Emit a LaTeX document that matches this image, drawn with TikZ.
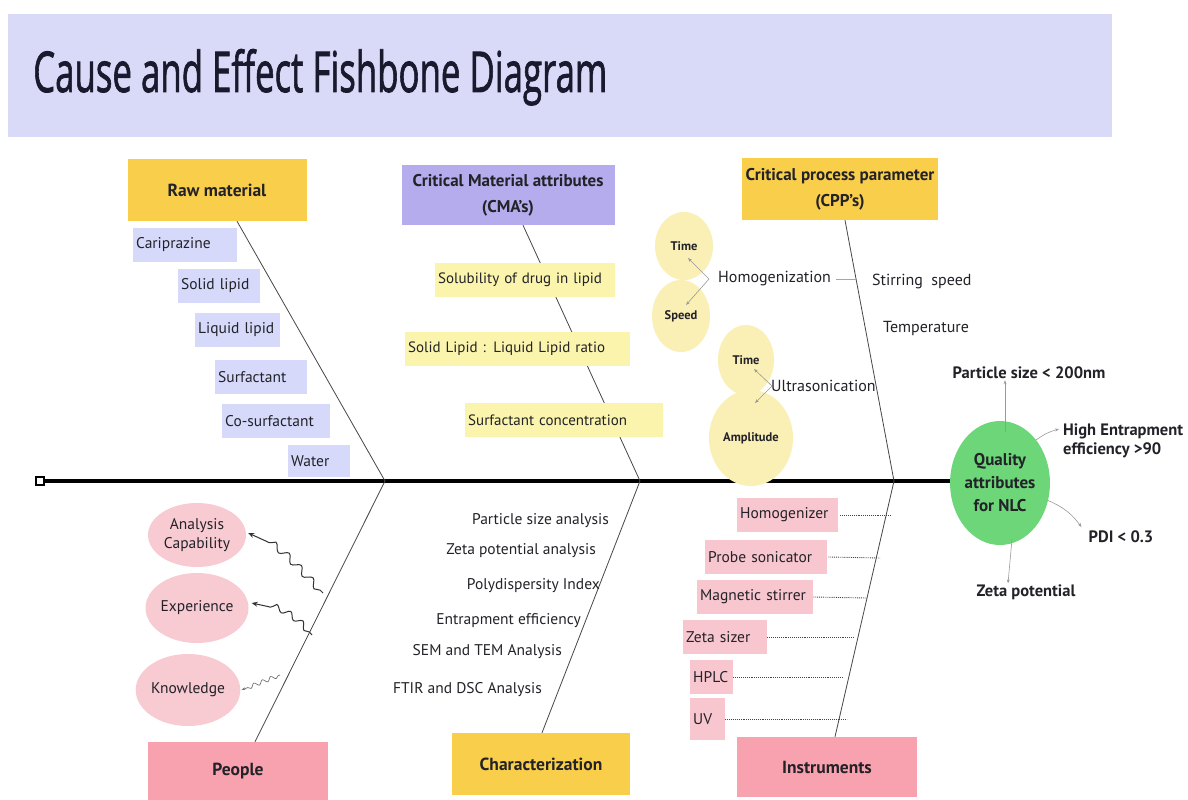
\documentclass[tikz,border=0pt]{standalone}
\usepackage{fontspec}
\setmainfont{PT Sans}
\newfontfamily\titlefont[FakeBold=1.6]{Open Sans}
\usetikzlibrary{shapes.geometric,decorations.pathmorphing,arrows.meta}
\definecolor{titlebg}{RGB}{217,218,248}
\definecolor{gold}{RGB}{249,206,74}
\definecolor{cmapurple}{RGB}{180,172,236}
\definecolor{lavbox}{RGB}{214,217,250}
\definecolor{paleyel}{RGB}{250,244,172}
\definecolor{ycircle}{RGB}{250,240,182}
\definecolor{pinkdk}{RGB}{247,162,174}
\definecolor{pinklt}{RGB}{248,202,210}
\definecolor{pinkbox}{RGB}{248,198,206}
\definecolor{qgreen}{RGB}{108,214,120}
\definecolor{ink}{RGB}{34,34,40}
\definecolor{titleink}{RGB}{26,26,46}
\definecolor{boneclr}{RGB}{70,70,70}
\tikzset{
  fs/.style={font=\fontsize{#1}{19}\selectfont},
  bfs/.style={font=\bfseries\fontsize{#1}{19}\selectfont},
  headbox/.style={fill=#1, inner sep=2pt, align=center, text=ink},
  itembox/.style={fill=#1, inner xsep=3pt, inner ysep=0pt, minimum height=34pt, anchor=west, align=left, text=ink, fs=15.5},
  plain/.style={inner sep=1pt, text=ink, fs=15.5},
  bone/.style={draw=boneclr, line width=0.8pt},
  garrow/.style={draw=gray!80, line width=0.6pt, -{Stealth[length=4pt,width=3pt]}},
  ycirc/.style={ellipse, fill=ycircle, inner sep=0pt, text=ink, bfs=12.5},
  pell/.style={ellipse, fill=pinklt, inner sep=0pt, align=center, text=ink, fs=15.5},
  wavy/.style={draw=#1, line width=1pt, -{Stealth[length=6pt,width=5pt]}, decorate,
     decoration={snake, amplitude=3.5pt, segment length=17pt, pre length=4pt, post length=20pt}},
  dotline/.style={draw=boneclr, line width=0.9pt, densely dotted},
}
\begin{document}
\begin{tikzpicture}[x=1pt,y=-1pt]
\useasboundingbox[fill=white] (0,0) rectangle (1188,800);

% title band
\node[fill=titlebg, minimum width=1104pt, minimum height=123pt, anchor=north west, inner sep=0pt] (band) at (8,14) {};
\node[anchor=base west, inner sep=0pt, text=titleink] (title) at (33,92) {\resizebox{574pt}{43pt}{\titlefont Cause and Effect Fishbone Diagram}};

% quality ellipse and spine
\node[ellipse, fill=qgreen, minimum width=98pt, minimum height=124pt, inner sep=0pt, align=center, text=ink, font=\bfseries\fontsize{17}{23}\selectfont] (qa) at (1000,483) {Quality\\attributes\\for NLC};
\node[draw=black, line width=2.2pt, minimum size=8pt, inner sep=0pt, fill=white] (tail) at (40,481) {};
\draw[line width=3.5pt] (tail.east) -- (qa.west |- tail.east);

% junctions on spine
\coordinate (j1) at (385,481);
\coordinate (j2) at (640,481);
\coordinate (j3) at (894,481);

% head boxes
\node[headbox=gold, minimum width=179pt, minimum height=62pt, bfs=17.5] (raw) at (217,190) {Raw material};
\node[headbox=cmapurple, minimum width=213pt, minimum height=60pt, font=\bfseries\fontsize{17}{26}\selectfont] (cma) at (508,195) {Critical Material attributes\\(CMA's)};
\node[headbox=gold, minimum width=196pt, minimum height=62pt, font=\bfseries\fontsize{17}{26}\selectfont] (cpp) at (840,189) {Critical process parameter\\(CPP's)};
\node[headbox=pinkdk, minimum width=180pt, minimum height=58pt, bfs=17.5] (people) at (238,771) {People};
\node[headbox=gold, minimum width=178pt, minimum height=62pt, bfs=17.5] (char) at (541,764) {Characterization};
\node[headbox=pinkdk, minimum width=180pt, minimum height=60pt, bfs=17.5] (instr) at (827,767) {Instruments};

% bones
\draw[bone] ([xshift=20pt]raw.south) -- (j1);
\draw[bone] (j1) -- ([xshift=17pt]people.north);
\draw[bone] ([xshift=15pt]cma.south) -- (j2);
\draw[bone] (j2) -- ([xshift=1pt]char.north);
\draw[bone] ([xshift=5pt]cpp.south) -- (j3);
\draw[bone] (j3) -- ([xshift=8pt]instr.north);

% raw material items
\node[itembox=lavbox, text width=98pt] (c1) at (133,245) {Cariprazine};
\node[itembox=lavbox, text width=76pt] (c2) at (178,286) {Solid lipid};
\node[itembox=lavbox, text width=79pt] (c3) at (195,330) {Liquid lipid};
\node[itembox=lavbox, text width=86pt] (c4) at (215,377) {Surfactant};
\node[itembox=lavbox, text width=102pt] (c5) at (222,421) {Co-surfactant};
\node[itembox=lavbox, text width=56pt, minimum height=32pt] (c6) at (288,461) {Water};

% CMA items
\node[itembox=paleyel, text width=174pt, fs=15] (s1) at (435,280) {Solubility of drug in lipid};
\node[itembox=paleyel, text width=219pt, fs=15] (s2) at (405,349) {Solid Lipid : Liquid Lipid ratio};
\node[itembox=paleyel, text width=192pt, fs=15] (s3) at (465,420) {Surfactant concentration};

% CPP items
\node[ycirc, minimum width=58pt, minimum height=68pt] (t1) at (684,246) {Time};
\node[ycirc, minimum width=58pt, minimum height=72pt] (sp) at (681,316) {Speed};
\node[ycirc, minimum width=56pt, minimum height=70pt] (t2) at (746,360) {Time};
\node[ycirc, minimum width=84pt, minimum height=96pt] (am) at (751,438) {Amplitude};

\node[plain, anchor=west, inner sep=3pt, fs=16] (hom) at (715,279) {Homogenization};
\draw[garrow] ([xshift=-6pt]hom.west) -- ([xshift=4pt,yshift=-12pt]t1.center);
\draw[garrow] ([xshift=-6pt]hom.west) -- ([xshift=5pt,yshift=11pt]sp.center);
\coordinate (hb) at (856,279);
\draw[draw=gray!70, line width=0.6pt] ([xshift=2pt]hom.east) -- (hb);
\node[plain, anchor=west, fs=16] (stir) at (871,281) {Stirring\ \ speed};
\node[plain, anchor=west, fs=16] (temp) at (882,328) {Temperature};
\node[plain, anchor=west, fs=16] (ultra) at (770,386) {Ultrasonication};
\draw[garrow] ([xshift=2pt]ultra.west) -- ([xshift=8pt,yshift=-9pt]t2.center);
\draw[garrow] ([xshift=2pt]ultra.west) -- ([xshift=4pt,yshift=35pt]am.center);

% people items
\node[pell, minimum width=98pt, minimum height=64pt] (ac) at (197,535) {Analysis\\Capability};
\node[pell, minimum width=98pt, minimum height=70pt] (ex) at (197,608) {Experience};
\node[pell, minimum width=98pt, minimum height=72pt] (kn) at (188,690) {Knowledge};
\coordinate (wa) at (323,593);
\coordinate (wb) at (312,635);
\coordinate (wc) at (280,675);
\draw[wavy=black!80] (wa) to[out=135, in=-20] ([xshift=2pt,yshift=2pt]ac.east);
\draw[wavy=black!80, decoration={snake, amplitude=3pt, segment length=15pt, pre length=4pt, post length=16pt}] (wb) to[out=130, in=-10] ([xshift=3pt,yshift=5pt]ex.east);
\draw[wavy=black!55, line width=0.7pt, -{Stealth[length=4pt,width=3pt]}, decoration={snake, amplitude=2pt, segment length=9pt, pre length=2pt, post length=6pt}] (wc) -- ([xshift=1pt]kn.east);

% characterization items
\node[plain, anchor=east] (k1) at (610,521) {Particle size analysis};
\node[plain, anchor=east] (k2) at (597,551) {Zeta potential analysis};
\node[plain, anchor=east] (k3) at (601,586) {Polydispersity Index};
\node[plain, anchor=east] (k4) at (582,621) {Entrapment efficiency};
\node[plain, anchor=east] (k5) at (563,652) {SEM and TEM Analysis};
\node[plain, anchor=east] (k6) at (543,690) {FTIR and DSC Analysis};

% instruments items
\node[itembox=pinkbox, text width=95pt] (i1) at (737,515) {Homogenizer};
\node[itembox=pinkbox, text width=116pt] (i2) at (705,557) {Probe sonicator};
\node[itembox=pinkbox, text width=110pt] (i3) at (697,597) {Magnetic stirrer};
\node[itembox=pinkbox, text width=78pt] (i4) at (683,637) {Zeta sizer};
\node[itembox=pinkbox, text width=37pt] (i5) at (690,677) {HPLC};
\node[itembox=pinkbox, text width=29pt, minimum height=42pt, font=\fontsize{15.5}{14}\selectfont] (i6) at (690,719) {UV\\[10pt]};
\coordinate (b1) at (890,515);
\coordinate (b2) at (880,558);
\coordinate (b3) at (867,598);
\coordinate (b4) at (853,637);
\coordinate (b5) at (842,677);
\coordinate (b6) at (847,719);
\draw[dotline] ([xshift=2pt]i1.east) -- (b1);
\draw[dotline] ([xshift=1pt]i2.east) -- (b2);
\draw[dotline] (i3.east) -- (b3);
\draw[dotline] (i4.east) -- (b4);
\draw[dotline] (i5.east) -- (b5);
\draw[dotline] (i6.east |- b6) -- (b6);

% quality outcomes
\node[plain, bfs=16.5] (ps) at (1029,373) {Particle size < 200nm};
\node[plain, anchor=west, align=left, font=\bfseries\fontsize{16.5}{19}\selectfont] (he) at (1062,441) {High Entrapment\\efficiency >90};
\node[plain, bfs=16.5] (pdi) at (1121,537) {PDI < 0.3};
\node[plain, bfs=16.5] (zp) at (1026,592) {Zeta potential};
\draw[garrow] ([xshift=5pt,yshift=-11pt]qa.north) -- ([xshift=5pt]qa.north |- ps.south);
\draw[garrow] (qa.50) to[bend left=10] ([xshift=-3pt,yshift=12pt]he.west);
\draw[garrow] (qa.-20) to[bend left=15] ([xshift=-6pt,yshift=10pt]pdi.west);
\draw[garrow] ([xshift=12pt,yshift=6pt]qa.south) -- ([xshift=8pt]qa.south |- zp.north);
\end{tikzpicture}
\end{document}
